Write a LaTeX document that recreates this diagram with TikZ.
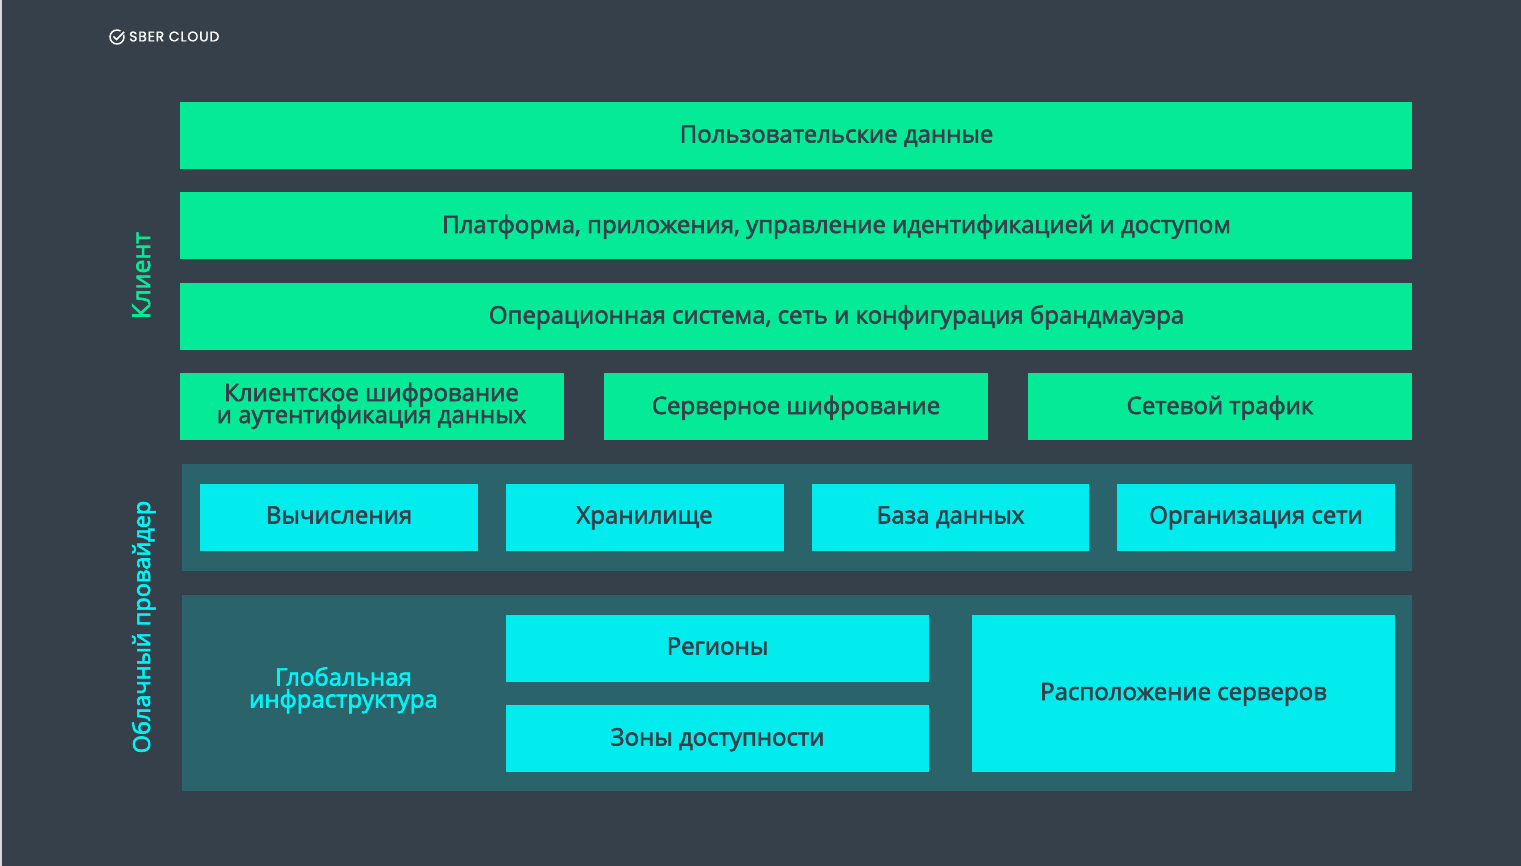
\documentclass[tikz,border=0pt]{standalone}
\usepackage{fontspec}
\setmainfont{Open Sans}[RawFeature={embolden=2.6}]
\newfontfamily\logofont{Poppins}[LetterSpace=6,RawFeature={embolden=1.2}]
\definecolor{bgc}{HTML}{36404A}
\definecolor{greenc}{HTML}{05EA96}
\definecolor{cyanc}{HTML}{02ECEE}
\definecolor{cyantext}{HTML}{00F6F6}
\definecolor{panelc}{HTML}{2B636B}
\definecolor{edgec}{HTML}{D5D9DD}
\tikzset{
  gbox/.style={fill=greenc,draw=none,inner sep=0pt},
  cbox/.style={fill=cyanc,draw=none,inner sep=0pt},
  pbox/.style={fill=panelc,draw=none,inner sep=0pt},
  lab/.style={text=bgc,inner sep=0pt,anchor=base,align=center,font=\fontsize{24}{22}\selectfont},
  lab2/.style={lab,text=cyantext},
  side/.style={inner sep=0pt,rotate=90,anchor=base,font=\fontsize{23.5}{24}\selectfont},
}
\newcommand{\bx}[6]{\path[#6] (#2,#3) rectangle (#4,#5) coordinate[midway] (#1);}
\begin{document}
\lineskiplimit=-100pt
\begin{tikzpicture}[x=1pt,y=-1pt]
\useasboundingbox (0,0) rectangle (1521,866);
\fill[bgc] (0,0) rectangle (1521,866);
\fill[edgec] (0,0) rectangle (1.5,866);
% logo
\node[inner sep=0pt,text=white,anchor=base west,font=\fontsize{14}{14}\logofont] (logo) at (129,41.4) {SBER CLOUD};
\draw[white,line width=1.5pt] (117,37) ++(-20:7) arc[start angle=-20,end angle=300,radius=7];
\draw[white,line width=1.5pt] (113.5,36.5) -- (116.5,39.5) -- (124,32);
% green rows
\bx{a}{180}{102}{1412}{169}{gbox}
\bx{b}{180}{192.5}{1412}{259.5}{gbox}
\bx{c}{180}{283}{1412}{350}{gbox}
\bx{d}{180}{373.5}{564}{440.5}{gbox}
\bx{e}{604}{373.5}{988}{440.5}{gbox}
\bx{f}{1028}{373.5}{1412}{440.5}{gbox}
% panels
\bx{p1}{182}{463.5}{1412}{570.5}{pbox}
\bx{p2}{182}{594.5}{1412}{791}{pbox}
% cyan
\bx{g}{200}{484}{477.5}{551}{cbox}
\bx{h}{506}{484}{783.5}{551}{cbox}
\bx{i}{811.5}{484}{1089}{551}{cbox}
\bx{j}{1117}{484}{1394.5}{551}{cbox}
\bx{k}{506}{614.5}{928.5}{681.5}{cbox}
\bx{l}{506}{705}{928.5}{771.5}{cbox}
\bx{m}{972}{614.5}{1394.5}{771.5}{cbox}
% text
\node[lab] (ta) at (836.5,142.5) {Пользовательские данные};
\node[lab] (tb) at (836.5,233) {Платформа, приложения, управление идентификацией и доступом};
\node[lab] (tc) at (836.5,323.5) {Операционная система, сеть и конфигурация брандмауэра};
\node[lab,anchor=center] (td) at (371.5,405.8) {Клиентское шифрование\\и аутентификация данных};
\node[lab] (te) at (796,414) {Серверное шифрование};
\node[lab] (tf) at (1220,414) {Сетевой трафик};
\node[lab] (tg) at (339,523.5) {Вычисления};
\node[lab] (th) at (644.5,523.5) {Хранилище};
\node[lab] (ti) at (950.5,523.5) {База данных};
\node[lab] (tj) at (1256,523.5) {Организация сети};
\node[lab] (tk) at (717.5,654.5) {Регионы};
\node[lab] (tl) at (717.5,745.5) {Зоны доступности};
\node[lab] (tm) at (1183.5,700) {Расположение серверов};
\node[lab2,anchor=center] (tn) at (343.5,690.2) {Глобальная\\инфраструктура};
\node[side,text=greenc,font=\fontsize{25}{24}\selectfont] (s1) at (150,275.5) {Клиент};
\node[side,text=cyantext] (s2) at (150,627) {Облачный провайдер};
\end{tikzpicture}
\end{document}
